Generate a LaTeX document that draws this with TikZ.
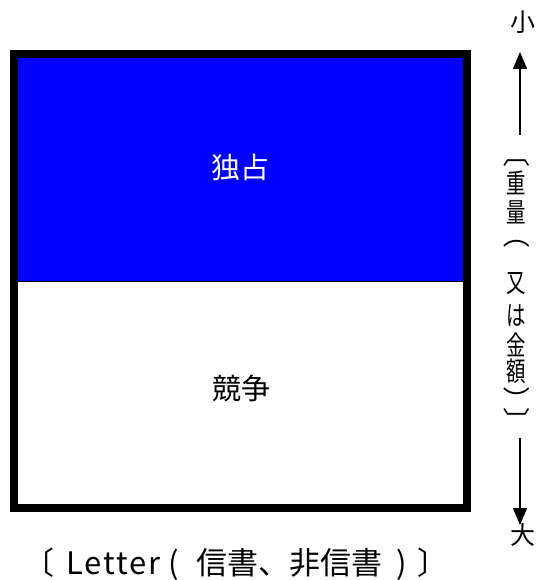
\documentclass[tikz,border=0pt]{standalone}
\usepackage{fontspec}
\setmainfont{Noto Sans CJK JP}
\usetikzlibrary{arrows.meta}
\tikzset{
  lbl/.style={inner sep=0pt, font=\fontsize{29}{30}\selectfont},
  botlbl/.style={inner sep=0pt, font=\fontsize{31}{32}\selectfont},
  side/.style={inner sep=0pt, font=\fontsize{25}{26}\selectfont},
  vch/.style={inner sep=0pt, font=\fontsize{27}{28}\selectfont},
  vbr/.style={inner sep=0pt, rotate=-90, font=\fontsize{27}{28}\selectfont},
  arr/.style={line width=1.3pt, -{Triangle[width=14pt,length=17pt]}}
}
\newcommand{\vc}[1]{\scalebox{0.72}[1]{#1}}
\begin{document}
\begin{tikzpicture}[x=1pt,y=-1pt]
\useasboundingbox (0,0) rectangle (539,580);
% box
\fill[blue] (14,54) rectangle (467,281);
\draw[line width=1pt] (14,281) -- (467,281);
\draw[line width=8pt] (14,54) rectangle (467,507.5);
\node[lbl, text=white] (mono) at (240,167) {独占};
\node[lbl] (comp) at (241,388) {競争};
% side scale
\node[side] (small) at (523,22) {小};
\node[side] (large) at (523,535) {大};
\coordinate (upS) at (520,135);
\coordinate (upE) at (520,52);
\coordinate (dnS) at (520,438);
\coordinate (dnE) at (520,525);
\draw[arr] (upS) -- (upE);
\draw[arr] (dnS) -- (dnE);
\node[vbr] (v1) at (517,154) {〔};
\node[vch] (v2) at (516,183) {\vc{重}};
\node[vch] (v3) at (516,212) {\vc{量}};
\node[vbr] (v4) at (517,235) {（};
\node[vch] (v5) at (516,284) {\vc{又}};
\node[vch] (v6) at (516,316) {\vc{は}};
\node[vch] (v7) at (516,345) {\vc{金}};
\node[vch] (v8) at (516,371) {\vc{額}};
\node[vbr] (v9) at (517,400) {）};
\node[vbr] (v10) at (517,421) {〕};
% bottom label
\node[botlbl, anchor=west] (xlab) at (23,564) {〔\hspace{12pt}{\addfontfeature{LetterSpace=6}Letter}\hspace{8pt}(\hspace{18pt}信書、非信書\hspace{14pt})\hspace{10pt}〕};
\end{tikzpicture}
\end{document}
